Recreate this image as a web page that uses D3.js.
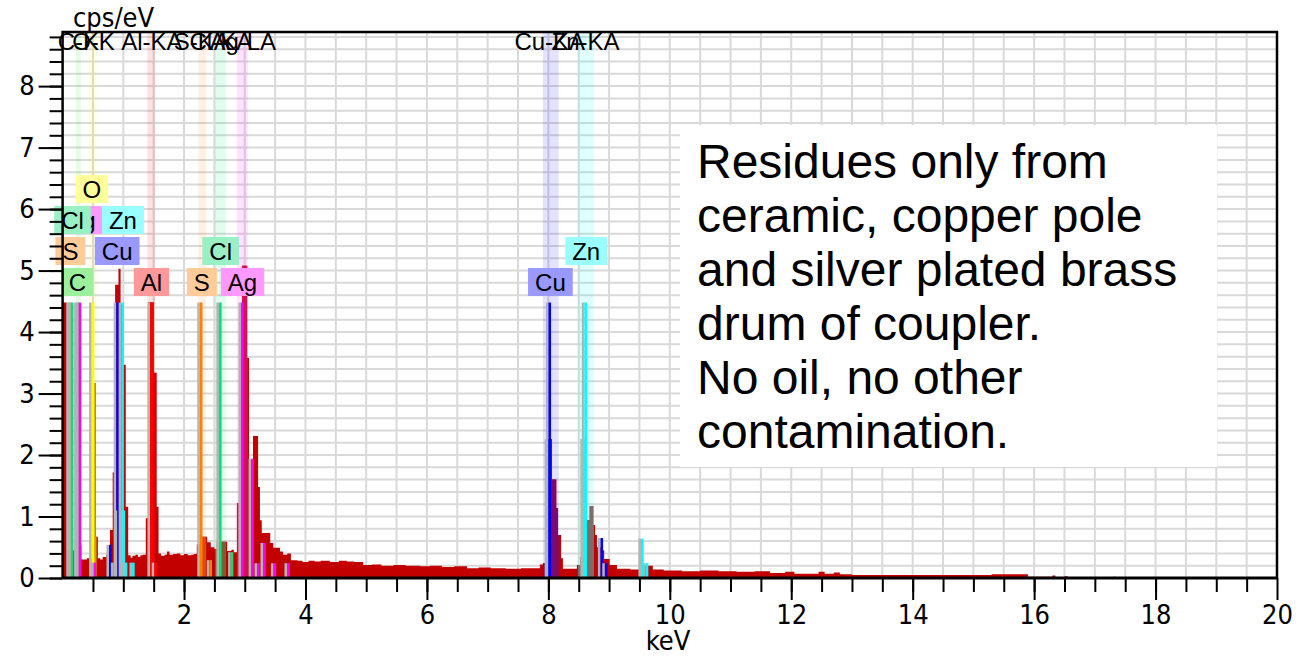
<!DOCTYPE html>
<html>
<head>
<meta charset="utf-8">
<script src="https://cdnjs.cloudflare.com/ajax/libs/d3/7.8.5/d3.min.js"></script>
<style>
body { margin: 0; background: #fff; }
svg { display: block; }
</style>
</head>
<body>
<svg id="chart" width="1308" height="658"></svg>
<script>
// EDX spectrum, read off the picture as histogram steps: [start keV, cps/eV]
// each step holds until the next start
var spectrum = [
    [0.00, 4.48], [0.07, 0.45], [0.29, 0.54], [0.31, 0.30], [0.40, 0.32], [0.49, 3.17],
    [0.545, 0.67], [0.58, 0.32], [0.62, 0.30], [0.66, 0.34], [0.72, 0.38], [0.75, 0.50],
    [0.78, 0.78], [0.825, 1.72], [0.865, 4.77], [0.92, 5.03], [0.955, 4.45], [1.00, 3.47],
    [1.04, 1.16], [1.08, 0.37], [1.12, 0.33], [1.15, 0.36], [1.20, 0.38], [1.24, 0.34],
    [1.28, 0.37], [1.32, 0.38], [1.37, 0.97], [1.41, 4.48], [1.50, 3.34], [1.55, 1.16],
    [1.58, 0.40], [1.62, 0.36], [1.68, 0.38], [1.72, 0.43], [1.76, 0.38], [1.82, 0.39],
    [1.88, 0.40], [1.94, 0.37], [2.00, 0.39], [2.06, 0.37], [2.12, 0.38], [2.16, 0.39],
    [2.21, 0.55], [2.29, 0.67], [2.38, 0.58], [2.44, 0.50], [2.50, 0.47], [2.54, 0.59],
    [2.71, 0.44], [2.78, 0.46], [2.82, 0.42], [2.87, 1.22], [2.92, 3.22], [2.955, 5.08],
    [3.04, 3.58], [3.07, 1.92], [3.135, 2.31], [3.22, 1.48], [3.25, 0.94], [3.28, 0.73],
    [3.42, 0.57], [3.47, 0.49], [3.58, 0.43], [3.63, 0.38], [3.70, 0.40], [3.76, 0.29],
    [3.87, 0.28], [3.95, 0.26], [4.05, 0.28], [4.15, 0.27], [4.25, 0.28], [4.40, 0.26],
    [4.55, 0.28], [4.68, 0.27], [4.80, 0.26], [4.95, 0.21], [5.10, 0.22], [5.25, 0.20],
    [5.45, 0.21], [5.65, 0.20], [5.89, 0.19], [6.05, 0.20], [6.25, 0.18], [6.45, 0.19],
    [6.66, 0.16], [6.85, 0.17], [7.05, 0.16], [7.30, 0.15], [7.55, 0.16], [7.86, 0.22],
    [7.91, 0.24], [7.96, 0.52], [7.99, 2.26], [8.06, 1.60], [8.13, 1.14], [8.16, 0.70],
    [8.21, 0.32], [8.24, 0.15], [8.47, 0.21], [8.53, 0.34], [8.57, 0.90], [8.64, 0.94],
    [8.68, 1.17], [8.74, 0.86], [8.77, 0.70], [8.80, 0.50], [8.88, 0.45], [8.92, 0.31],
    [9.01, 0.21], [9.13, 0.15], [9.35, 0.14], [9.52, 0.20], [9.62, 0.20], [9.72, 0.14],
    [9.90, 0.12], [10.2, 0.11], [10.5, 0.12], [10.8, 0.11], [11.1, 0.10], [11.4, 0.11],
    [11.65, 0.08], [11.9, 0.10], [12.05, 0.07], [12.45, 0.10], [12.55, 0.07], [12.7, 0.09],
    [12.8, 0.06], [13.0, 0.05], [15.3, 0.06], [15.9, 0.02], [16.3, 0.04], [16.35, 0.01],
    [16.5, 0.03], [16.55, 0.01], [17.3, 0.02], [17.35, 0]
];

// element line markers: [element, keV, height in cps/eV]
var lineMarkers = [
    ["S", 0.149, 4.48], ["Cl", 0.183, 4.48], ["C", 0.277, 4.48], ["Ag", 0.311, 4.48],
    ["O", 0.525, 4.48], ["Ag", 0.555, 0.25],
    ["Cu", 0.811, 0.54], ["Zn", 0.884, 0.25], ["Cu", 0.930, 4.48], ["Cu", 0.949, 1.10],
    ["Zn", 1.012, 4.48], ["Zn", 1.034, 1.10], ["Zn", 1.070, 0.25], ["Zn", 1.190, 0.25],
    ["Al", 1.486, 4.48], ["Al", 1.557, 0.25],
    ["S", 2.307, 4.48], ["S", 2.464, 0.29],
    ["Cl", 2.622, 4.48], ["Cl", 2.815, 0.42],
    ["Ag", 2.984, 4.48], ["Ag", 3.151, 1.94], ["Ag", 3.250, 0.24], ["Ag", 3.348, 0.57],
    ["Ag", 3.520, 0.24], ["Ag", 3.743, 0.24],
    ["Cu", 8.028, 2.26], ["Cu", 8.048, 4.48], ["Cu", 8.905, 0.65], ["Cu", 8.977, 0.24],
    ["Zn", 8.616, 2.26], ["Zn", 8.639, 4.48], ["Zn", 9.572, 0.64], ["Zn", 9.650, 0.24]
];

// energy windows of the identified lines: [element, keV, half width keV]
var bands = [
    ["C", 0.262, 0.04], ["O", 0.50, 0.06], ["Al", 1.46, 0.065], ["S", 2.30, 0.065],
    ["Cl", 2.60, 0.09], ["Ag", 2.96, 0.09], ["Cu", 8.04, 0.13], ["Zn", 8.62, 0.13]
];

// line names along the top: [text, keV]
var lineLabels = [
    ["C-K", 0.277], ["O-K", 0.525], ["Al-KA", 1.486], ["S-KA", 2.307],
    ["Cl-KA", 2.622], ["Ag-LA", 2.984], ["Cu-KA", 8.04], ["Zn-KA", 8.63]
];

// element tags: [element, keV]
var elementTags = [
    ["O", 0.50], ["Ag", 0.32], ["Cl", 0.18], ["Zn", 1.01], ["S", 0.145], ["Cu", 0.915],
    ["Cl", 2.62], ["Zn", 8.64], ["C", 0.26], ["Al", 1.48], ["S", 2.31], ["Ag", 2.98], ["Cu", 8.05]
];
var tagRows = [0, 1, 1, 1, 2, 2, 2, 2, 3, 3, 3, 3, 3];

var xMajor = [2, 4, 6, 8, 10, 12, 14, 16, 18, 20];
var yMajor = [0, 1, 2, 3, 4, 5, 6, 7, 8];

var noteLines = [
    "Residues only from",
    "ceramic, copper pole",
    "and silver plated brass",
    "drum of coupler.",
    "No oil, no other",
    "contamination."
];

// colours per element: marker line, band tint, spectrum inside band, tag box
var elStyle = {
    C:  {line: "#1ee81e", band: "rgba(0,255,0,0.10)",    over: "#8c8c10", tag: "#9cf09c"},
    O:  {line: "#ffff00", band: "rgba(255,255,0,0.13)",  over: "#d49c00", tag: "#ffff99"},
    Al: {line: "#ff0000", band: "rgba(255,0,0,0.11)",    over: "#e80000", tag: "#ff9999"},
    S:  {line: "#ff8000", band: "rgba(255,128,0,0.10)",  over: "#e04a08", tag: "#ffcc99"},
    Cl: {line: "#00e27a", band: "rgba(0,230,120,0.11)",  over: "#7a6030", tag: "#99f0c4"},
    Ag: {line: "#ff00ff", band: "rgba(255,0,255,0.11)",  over: "#d4105a", tag: "#ff99ff"},
    Cu: {line: "#0000ff", band: "rgba(0,0,255,0.11)",    over: "#7a0a70", tag: "#9999ff"},
    Zn: {line: "#00ffff", band: "rgba(0,255,255,0.12)",  over: "#7a6e6a", tag: "#99ffff"}
};

var axisFont = "'DejaVu Sans Condensed', 'DejaVu Sans', sans-serif";
var labelFont = "'Liberation Sans', Arial, sans-serif";

var svg = d3.select("#chart");
var plot = {left: 62.6, right: 1277, top: 32, bottom: 578};

var x = d3.scaleLinear().domain([0, 20]).range([plot.left, plot.right]);
var y = d3.scaleLinear().domain([0, 8.88]).range([plot.bottom, plot.top]);

// grid
var vGrid = d3.range(1, 40).map(function(i){ return i * 0.5; });
var hGrid = d3.range(1, 45).map(function(i){ return i * 0.2; }).filter(function(v){ return v < 8.85; });

svg.append("g")
    .selectAll("line")
    .data(vGrid).enter()
    .append("line")
    .attr("x1", function(d){ return x(d); })
    .attr("x2", function(d){ return x(d); })
    .attr("y1", plot.top)
    .attr("y2", plot.bottom)
    .attr("stroke", "#d9d9d9")
    .attr("stroke-width", 2);

svg.append("g")
    .selectAll("line")
    .data(hGrid).enter()
    .append("line")
    .attr("x1", plot.left)
    .attr("x2", plot.right)
    .attr("y1", function(d){ return y(d); })
    .attr("y2", function(d){ return y(d); })
    .attr("stroke", "#d9d9d9")
    .attr("stroke-width", 2);

// line windows
svg.append("g")
    .selectAll("rect")
    .data(bands).enter()
    .append("rect")
    .attr("x", function(d){ return x(d[1] - d[2]); })
    .attr("width", function(d){ return x(d[1] + d[2]) - x(d[1] - d[2]); })
    .attr("y", plot.top)
    .attr("height", plot.bottom - plot.top)
    .attr("fill", function(d){ return elStyle[d[0]].band; });

// spectrum
var area = d3.area()
    .curve(d3.curveStepAfter)
    .x(function(d){ return x(d[0]); })
    .y0(y(0))
    .y1(function(d){ return y(d[1]); });

svg.append("path")
    .datum(spectrum)
    .attr("d", area)
    .attr("fill", "#c20000");

// spectrum recoloured inside each window
var defs = svg.append("defs");
bands.forEach(function(b, i){
    defs.append("clipPath")
        .attr("id", "band" + i)
        .append("rect")
        .attr("x", x(b[1] - b[2]))
        .attr("width", x(b[1] + b[2]) - x(b[1] - b[2]))
        .attr("y", plot.top)
        .attr("height", plot.bottom - plot.top);
    svg.append("path")
        .datum(spectrum)
        .attr("d", area)
        .attr("clip-path", "url(#band" + i + ")")
        .attr("fill", elStyle[b[0]].over);
});

// marker lines, each with its grey shadow on the left
var markers = svg.append("g");
lineMarkers.forEach(function(m){
    var px = x(m[1]);
    markers.append("rect")
        .attr("x", px - 5.4)
        .attr("width", 2.6)
        .attr("y", y(m[2]))
        .attr("height", y(0) - y(m[2]))
        .attr("fill", "#b4b4b4");
    markers.append("rect")
        .attr("x", px - 2.8)
        .attr("width", 2.6)
        .attr("y", y(m[2]))
        .attr("height", y(0) - y(m[2]))
        .attr("fill", elStyle[m[0]].line);
});

// line names along the top
svg.append("g")
    .selectAll("text")
    .data(lineLabels).enter()
    .append("text")
    .attr("x", function(d){ return x(d[1]) - 1; })
    .attr("y", 50)
    .attr("text-anchor", "middle")
    .attr("font-family", labelFont)
    .attr("font-size", 24)
    .attr("fill", "#000")
    .text(function(d){ return d[0]; });

// element tags
var rowY = [189, 220, 251, 282];
var tags = svg.append("g");
elementTags.forEach(function(t, i){
    var cx = x(t[1]) - 1, cy = rowY[tagRows[i]];
    var g = tags.append("g");
    var r = g.append("rect");
    var txt = g.append("text")
        .attr("x", cx)
        .attr("y", cy)
        .attr("dy", "0.36em")
        .attr("text-anchor", "middle")
        .attr("font-family", labelFont)
        .attr("font-size", 24)
        .attr("fill", "#000")
        .text(t[0]);
    var w = txt.node().getComputedTextLength() + 14;
    r.attr("x", cx - w / 2)
        .attr("y", cy - 14)
        .attr("width", w)
        .attr("height", 28)
        .attr("fill", elStyle[t[0]].tag);
});

// axes
function styleAxis(g){
    g.select(".domain").remove();
    g.selectAll(".tick line").attr("stroke", "#000").attr("stroke-width", 2);
    g.selectAll(".tick text")
        .attr("font-family", axisFont)
        .attr("font-size", 27)
        .attr("fill", "#000");
}

svg.append("g")
    .attr("transform", "translate(" + plot.left + ",0)")
    .call(d3.axisLeft(y).tickValues(hGrid.concat([0])).tickSize(13).tickFormat(""))
    .call(styleAxis);

svg.append("g")
    .attr("transform", "translate(" + plot.left + ",0)")
    .call(d3.axisLeft(y).tickValues(yMajor).tickSize(24).tickPadding(4).tickFormat(d3.format("d")))
    .call(styleAxis);

svg.append("g")
    .attr("transform", "translate(0," + plot.bottom + ")")
    .call(d3.axisBottom(x).tickValues(vGrid).tickSize(14).tickFormat(""))
    .call(styleAxis);

svg.append("g")
    .attr("transform", "translate(0," + plot.bottom + ")")
    .call(d3.axisBottom(x).tickValues(xMajor).tickSize(22).tickPadding(5).tickFormat(d3.format("d")))
    .call(styleAxis);

// frame
svg.append("path")
    .attr("d", "M" + plot.left + "," + plot.bottom + "V" + plot.top + "H" + plot.right + "V" + plot.bottom)
    .attr("fill", "none")
    .attr("stroke", "#000")
    .attr("stroke-width", 2.5);
svg.append("line")
    .attr("x1", plot.left).attr("x2", plot.right)
    .attr("y1", plot.bottom).attr("y2", plot.bottom)
    .attr("stroke", "#000")
    .attr("stroke-width", 3);

// axis titles
svg.append("text")
    .attr("x", 73).attr("y", 27)
    .attr("font-family", axisFont)
    .attr("font-size", 27)
    .text("cps/eV");
svg.append("text")
    .attr("x", 668).attr("y", 650)
    .attr("text-anchor", "middle")
    .attr("font-family", axisFont)
    .attr("font-size", 27)
    .text("keV");

// note box
svg.append("rect")
    .attr("x", 680).attr("y", 125)
    .attr("width", 537).attr("height", 342)
    .attr("fill", "#fff");
svg.append("g")
    .selectAll("text")
    .data(noteLines).enter()
    .append("text")
    .attr("x", 697)
    .attr("y", function(d, i){ return 178 + i * 54; })
    .attr("font-family", labelFont)
    .attr("font-size", 48)
    .attr("fill", "#000")
    .text(function(d){ return d; });
</script>
</body>
</html>
